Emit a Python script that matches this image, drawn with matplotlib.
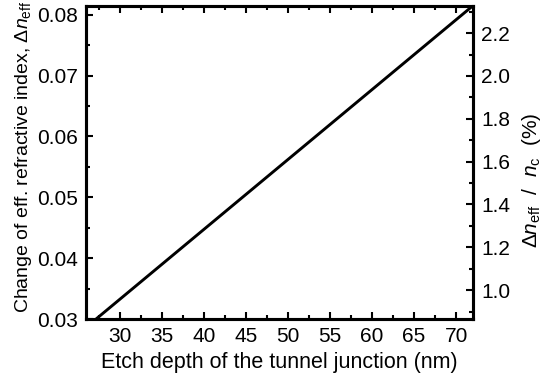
import matplotlib
matplotlib.use("Agg")
import matplotlib.pyplot as plt
from matplotlib.ticker import MultipleLocator, FormatStrFormatter

plt.rcParams["font.family"] = ["Liberation Sans", "DejaVu Sans"]
plt.rcParams["mathtext.fontset"] = "custom"
plt.rcParams["mathtext.rm"] = "Liberation Sans"
plt.rcParams["mathtext.it"] = "Liberation Sans:italic"
plt.rcParams["mathtext.default"] = "regular"

# Etch depth (nm) and change of effective refractive index
etch_depth = [27.2, 72.0]
delta_n_eff = [0.030, 0.0815]

x_limits = (26, 72)
left_limits = (0.03, 0.0815)
right_limits = (0.865, 2.328)

fig = plt.figure(figsize=(5.43, 3.83), dpi=100)
ax = fig.add_axes([0.1584, 0.1671, 0.7126, 0.8180])
ax.plot(etch_depth, delta_n_eff, color="black", lw=2.1, solid_capstyle="butt")
ax.set_xlim(*x_limits)
ax.set_ylim(*left_limits)

tick_fs = 15
ax.xaxis.set_major_locator(MultipleLocator(5))
ax.xaxis.set_minor_locator(MultipleLocator(2.5))
ax.yaxis.set_major_locator(MultipleLocator(0.01))
ax.yaxis.set_minor_locator(MultipleLocator(0.005))
ax.tick_params(which="both", direction="in", top=True, right=False,
               labelsize=tick_fs, width=1.5)
ax.tick_params(axis="x", pad=6)
ax.tick_params(axis="y", pad=6)
ax.tick_params(which="major", length=5)
ax.tick_params(which="minor", length=3)
for s in ax.spines.values():
    s.set_linewidth(2.2)

ax.set_xlabel("Etch depth of the tunnel junction (nm)", fontsize=15.5, labelpad=4)
ax.set_ylabel(r"Change of eff. refractive index, $\mathit{\Delta n}_{eff}$",
              fontsize=14, labelpad=2)
ax.yaxis.label.set_y(0.517)

ax2 = ax.twinx()
ax2.set_ylim(*right_limits)
ax2.yaxis.set_major_locator(MultipleLocator(0.2))
ax2.yaxis.set_minor_locator(MultipleLocator(0.1))
ax2.yaxis.set_major_formatter(FormatStrFormatter("%.1f"))
ax2.tick_params(which="both", direction="in", labelsize=tick_fs, width=1.5, pad=6)
ax2.tick_params(which="major", length=5)
ax2.tick_params(which="minor", length=3)
for s in ax2.spines.values():
    s.set_linewidth(2.2)
ax2.set_ylabel(r"$\mathit{\Delta n}_{eff}$  /  $\mathit{n}_{c}$  (%)", fontsize=15,
               labelpad=7)
ax2.yaxis.label.set_y(0.444)

fig.savefig("out.png", dpi=100)
